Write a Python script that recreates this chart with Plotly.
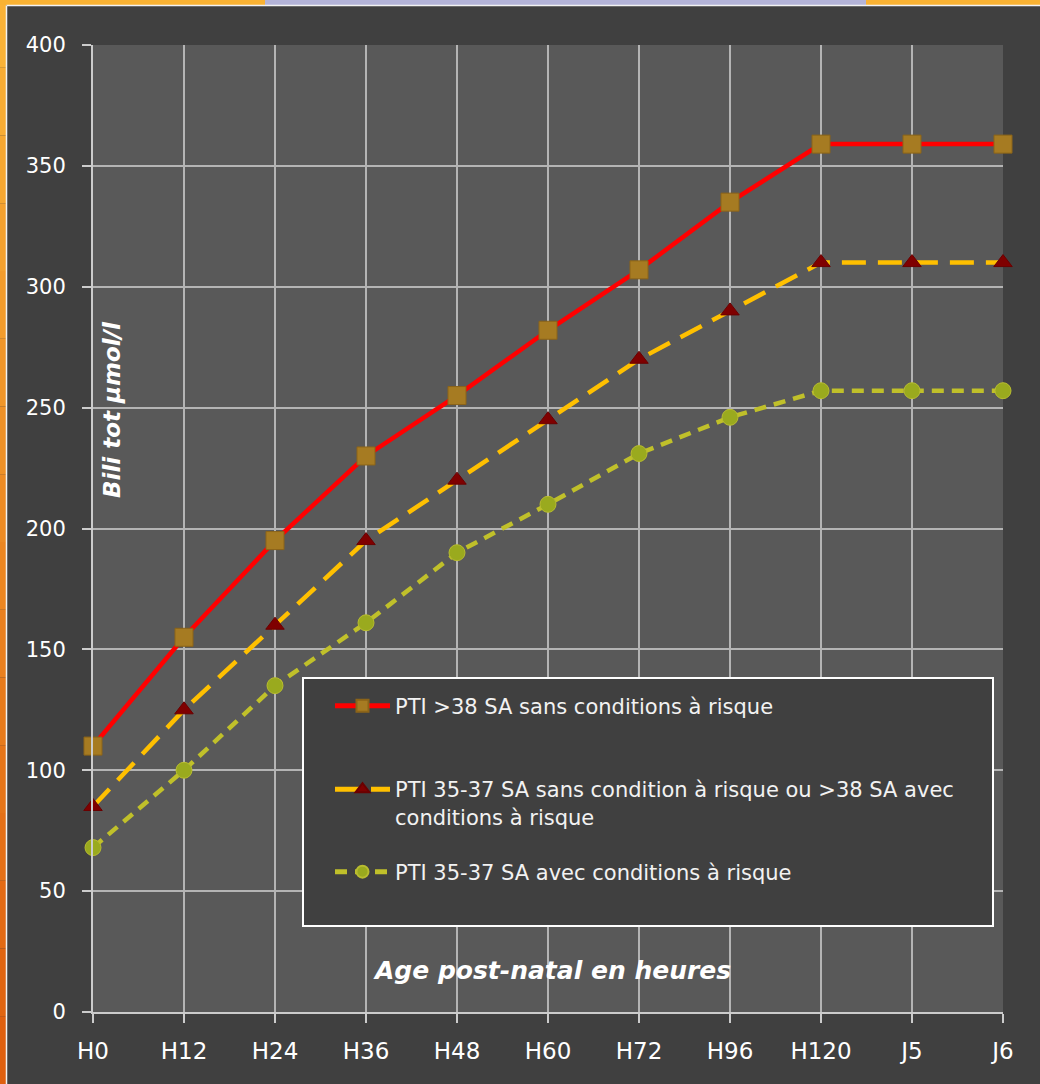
import plotly.graph_objects as go

# ---------------- data ----------------
categories = ["H0", "H12", "H24", "H36", "H48", "H60", "H72", "H96", "H120", "J5", "J6"]
pti_38_sans_risque = [110, 155, 195, 230, 255, 282, 307, 335, 359, 359, 359]
pti_35_37_sans_risque_ou_38_avec = [85, 125, 160, 195, 220, 245, 270, 290, 310, 310, 310]
pti_35_37_avec_risque = [68, 100, 135, 161, 190, 210, 231, 246, 257, 257, 257]
y_tick_values = [0, 50, 100, 150, 200, 250, 300, 350, 400]

names = [
    "PTI >38 SA sans conditions à risque",
    "PTI 35-37 SA sans condition à risque ou >38 SA avec<br>conditions à risque",
    "PTI 35-37 SA avec conditions à risque",
]

FONT = "DejaVu Sans"
W, H = 1040, 1084
L, R, T, B = 93, 37, 45, 72
PW, PH = W - L - R, H - T - B


def px(x):
    return (x - L) / PW


def py(y):
    return (H - B - y) / PH


fig = go.Figure()

fig.add_trace(go.Scatter(
    x=categories, y=pti_38_sans_risque, name=names[0], mode="lines+markers",
    line=dict(color="#FF0000", width=4.5),
    marker=dict(symbol="square", size=18, color="#A67B22", line=dict(color="#8C6418", width=1)),
    cliponaxis=False, legend="legend",
))
fig.add_trace(go.Scatter(
    x=categories, y=pti_35_37_sans_risque_ou_38_avec, name=names[1], mode="lines+markers",
    line=dict(color="#FFC000", width=4.5, dash="24px,12px"),
    marker=dict(symbol="triangle-up", size=16, color="#7F0000", line=dict(color="#6A0000", width=1)),
    cliponaxis=False, legend="legend2",
))
fig.add_trace(go.Scatter(
    x=categories, y=pti_35_37_avec_risque, name=names[2], mode="lines+markers",
    line=dict(color="#C0C02A", width=4.5, dash="12px,8px"),
    marker=dict(symbol="circle", size=16, color="#9AAA1E", line=dict(color="#B8BC30", width=1)),
    cliponaxis=False, legend="legend3",
))

shapes = []
# orange frame on the left (gradient approximated by stacked bands)
top_col = (250, 178, 55)
bot_col = (224, 96, 15)
n = 16
for i in range(n):
    t = i / (n - 1)
    c = tuple(int(top_col[k] + (bot_col[k] - top_col[k]) * t) for k in range(3))
    y0p = H * i / n
    y1p = H * (i + 1) / n
    shapes.append(dict(type="rect", xref="paper", yref="paper",
                       x0=px(0), x1=px(6), y0=py(y1p), y1=py(y0p),
                       fillcolor="rgb(%d,%d,%d)" % c, line=dict(width=0), layer="below"))
# top strip
shapes.append(dict(type="rect", xref="paper", yref="paper",
                   x0=px(0), x1=px(W), y0=py(5), y1=py(0),
                   fillcolor="#F9B233", line=dict(width=0), layer="below"))
# lavender box at the top (cut-off title box)
shapes.append(dict(type="rect", xref="paper", yref="paper",
                   x0=px(265), x1=px(866), y0=py(5), y1=py(0),
                   fillcolor="#B4B4D8", line=dict(width=0), layer="below"))
# thin light border of the chart area
shapes.append(dict(type="line", xref="paper", yref="paper",
                   x0=px(6.5), x1=px(6.5), y0=py(H), y1=py(5.5),
                   line=dict(color="#F2F2F2", width=1.5), layer="below"))
shapes.append(dict(type="line", xref="paper", yref="paper",
                   x0=px(6.5), x1=px(W), y0=py(5.5), y1=py(5.5),
                   line=dict(color="#F2F2F2", width=1.5), layer="below"))
# legend box
shapes.append(dict(type="rect", xref="paper", yref="paper",
                   x0=px(303), x1=px(993), y0=py(926), y1=py(678),
                   fillcolor="#404040", line=dict(color="#FFFFFF", width=2), layer="above"))

legend_common = dict(
    bgcolor="rgba(0,0,0,0)", borderwidth=0,
    font=dict(family=FONT, size=21, color="#F2F2F2"),
    itemwidth=55, itemsizing="constant",
    xanchor="left", yanchor="middle", valign="top",
    tracegroupgap=0,
)

fig.update_layout(
    width=W, height=H,
    margin=dict(l=L, r=R, t=T, b=B, pad=0),
    paper_bgcolor="#404040",
    plot_bgcolor="#595959",
    showlegend=True,
    legend=dict(x=px(330), y=py(706), **legend_common),
    legend2=dict(x=px(330), y=py(803), **legend_common),
    legend3=dict(x=px(330), y=py(872), **legend_common),
    shapes=shapes,
    xaxis=dict(
        type="category", range=[0, len(categories) - 1],
        showgrid=True, gridcolor="#B4B4B4", gridwidth=1.5,
        showline=True, linecolor="#CCCCCC", linewidth=2,
        ticks="outside", ticklen=9, tickwidth=2, tickcolor="#CCCCCC",
        tickfont=dict(family=FONT, size=23, color="#FFFFFF"),
        ticklabelstandoff=8, zeroline=False,
    ),
    yaxis=dict(
        range=[0, 400], tickvals=y_tick_values,
        showgrid=True, gridcolor="#B4B4B4", gridwidth=1.5,
        showline=True, linecolor="#CCCCCC", linewidth=2,
        ticks="outside", ticklen=9, tickwidth=2, tickcolor="#CCCCCC",
        tickfont=dict(family=FONT, size=21, color="#FFFFFF"),
        ticklabelstandoff=12, zeroline=False,
    ),
    annotations=[
        dict(text="<b><i>Age post-natal en heures</i></b>", xref="paper", yref="paper",
             x=px(552), y=py(970), showarrow=False, xanchor="center", yanchor="middle",
             font=dict(family=FONT, size=25, color="#FFFFFF")),
        dict(text="<b><i>Bili tot µmol/l</i></b>", xref="paper", yref="paper",
             x=px(112), y=py(410), showarrow=False, textangle=-90,
             xanchor="center", yanchor="middle",
             font=dict(family=FONT, size=23, color="#FFFFFF")),
    ],
)

fig.write_html(
    "out.html",
    config={"displayModeBar": False},
    post_script="document.body.style.margin='0px';document.body.style.overflow='hidden';",
)
